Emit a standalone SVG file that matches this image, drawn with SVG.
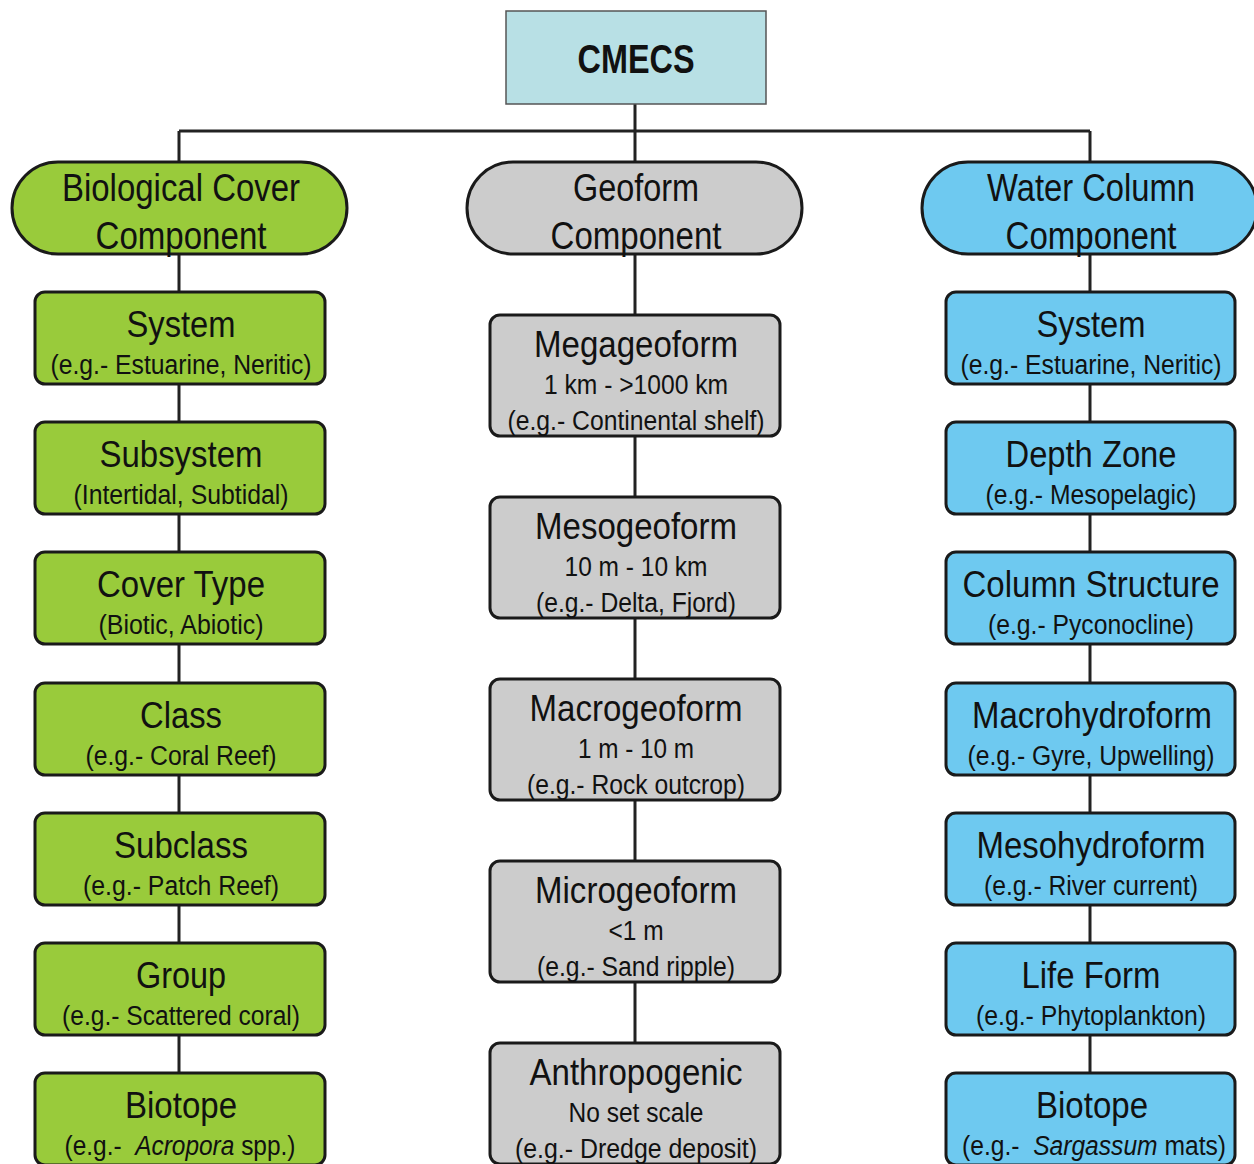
<svg xmlns="http://www.w3.org/2000/svg" width="1254" height="1164" viewBox="0 0 1254 1164">
<style>
text{font-family:"Liberation Sans",Arial,sans-serif;fill:#111;text-anchor:middle}
.t{font-size:37px}
.s{font-size:27px}
.h{font-size:38px}
.bx{stroke:#1a1a1a;stroke-width:3}
.g{fill:#99CB3B}
.b{fill:#6EC9F0}
.y{fill:#CCCCCC}
.ln{stroke:#222;stroke-width:3;fill:none}
</style>
<rect width="1254" height="1164" fill="#fff"/>
<g id="connectors">
<path class="ln" d="M179 131 H1090 M179 131 V1073 M635 104 V1043 M1090 131 V1073"/>
</g>
<g id="cmecs">
<rect x="506" y="11" width="260" height="93" fill="#B8E0E5" stroke="#555" stroke-width="1.5"/>
<text x="636" y="73" style="font-size:40px;font-weight:bold" textLength="117" lengthAdjust="spacingAndGlyphs">CMECS</text>
</g>
<g id="bio-component">
<rect class="bx g" x="12" y="162" width="335" height="92" rx="46"/>
<text class="h" x="181" y="201" textLength="238" lengthAdjust="spacingAndGlyphs">Biological Cover</text>
<text class="h" x="181" y="249" textLength="171" lengthAdjust="spacingAndGlyphs">Component</text>
</g>
<g id="geo-component">
<rect class="bx y" x="467" y="162" width="335" height="92" rx="46"/>
<text class="h" x="636" y="201" textLength="126" lengthAdjust="spacingAndGlyphs">Geoform</text>
<text class="h" x="636" y="249" textLength="171" lengthAdjust="spacingAndGlyphs">Component</text>
</g>
<g id="water-component">
<rect class="bx b" x="922" y="162" width="335" height="92" rx="46"/>
<text class="h" x="1091" y="201" textLength="208" lengthAdjust="spacingAndGlyphs">Water Column</text>
<text class="h" x="1091" y="249" textLength="171" lengthAdjust="spacingAndGlyphs">Component</text>
</g>
<g id="bio-system">
<rect class="bx g" x="35" y="292" width="290" height="92" rx="10"/>
<text class="t" x="181" y="337" textLength="109" lengthAdjust="spacingAndGlyphs">System</text>
<text class="s" x="181" y="374" textLength="261" lengthAdjust="spacingAndGlyphs">(e.g.- Estuarine, Neritic)</text>
</g>
<g id="bio-subsystem">
<rect class="bx g" x="35" y="422" width="290" height="92" rx="10"/>
<text class="t" x="181" y="467" textLength="163" lengthAdjust="spacingAndGlyphs">Subsystem</text>
<text class="s" x="181" y="504" textLength="215" lengthAdjust="spacingAndGlyphs">(Intertidal, Subtidal)</text>
</g>
<g id="bio-covertype">
<rect class="bx g" x="35" y="552" width="290" height="92" rx="10"/>
<text class="t" x="181" y="597" textLength="168" lengthAdjust="spacingAndGlyphs">Cover Type</text>
<text class="s" x="181" y="634" textLength="165" lengthAdjust="spacingAndGlyphs">(Biotic, Abiotic)</text>
</g>
<g id="bio-class">
<rect class="bx g" x="35" y="683" width="290" height="92" rx="10"/>
<text class="t" x="181" y="728" textLength="82" lengthAdjust="spacingAndGlyphs">Class</text>
<text class="s" x="181" y="765" textLength="191" lengthAdjust="spacingAndGlyphs">(e.g.- Coral Reef)</text>
</g>
<g id="bio-subclass">
<rect class="bx g" x="35" y="813" width="290" height="92" rx="10"/>
<text class="t" x="181" y="858" textLength="134" lengthAdjust="spacingAndGlyphs">Subclass</text>
<text class="s" x="181" y="895" textLength="196" lengthAdjust="spacingAndGlyphs">(e.g.- Patch Reef)</text>
</g>
<g id="bio-group">
<rect class="bx g" x="35" y="943" width="290" height="92" rx="10"/>
<text class="t" x="181" y="988" textLength="90" lengthAdjust="spacingAndGlyphs">Group</text>
<text class="s" x="181" y="1025" textLength="238" lengthAdjust="spacingAndGlyphs">(e.g.- Scattered coral)</text>
</g>
<g id="bio-biotope">
<rect class="bx g" x="35" y="1073" width="290" height="92" rx="10"/>
<text class="t" x="181" y="1118" textLength="112" lengthAdjust="spacingAndGlyphs">Biotope</text>
<text class="s" x="180" y="1155" textLength="231" lengthAdjust="spacingAndGlyphs" xml:space="preserve">(e.g.-  <tspan font-style="italic">Acropora</tspan> spp.)</text>
</g>
<g id="geo-mega">
<rect class="bx y" x="490" y="315" width="290" height="121" rx="10"/>
<text class="t" x="636" y="357" textLength="204" lengthAdjust="spacingAndGlyphs">Megageoform</text>
<text class="s" x="636" y="394" textLength="184" lengthAdjust="spacingAndGlyphs">1 km - &gt;1000 km</text>
<text class="s" x="636" y="430" textLength="257" lengthAdjust="spacingAndGlyphs">(e.g.- Continental shelf)</text>
</g>
<g id="geo-meso">
<rect class="bx y" x="490" y="497" width="290" height="121" rx="10"/>
<text class="t" x="636" y="539" textLength="202" lengthAdjust="spacingAndGlyphs">Mesogeoform</text>
<text class="s" x="636" y="576" textLength="143" lengthAdjust="spacingAndGlyphs">10 m - 10 km</text>
<text class="s" x="636" y="612" textLength="200" lengthAdjust="spacingAndGlyphs">(e.g.- Delta, Fjord)</text>
</g>
<g id="geo-macro">
<rect class="bx y" x="490" y="679" width="290" height="121" rx="10"/>
<text class="t" x="636" y="721" textLength="213" lengthAdjust="spacingAndGlyphs">Macrogeoform</text>
<text class="s" x="636" y="758" textLength="116" lengthAdjust="spacingAndGlyphs">1 m - 10 m</text>
<text class="s" x="636" y="794" textLength="218" lengthAdjust="spacingAndGlyphs">(e.g.- Rock outcrop)</text>
</g>
<g id="geo-micro">
<rect class="bx y" x="490" y="861" width="290" height="121" rx="10"/>
<text class="t" x="636" y="903" textLength="202" lengthAdjust="spacingAndGlyphs">Microgeoform</text>
<text class="s" x="636" y="940" textLength="55" lengthAdjust="spacingAndGlyphs">&lt;1 m</text>
<text class="s" x="636" y="976" textLength="198" lengthAdjust="spacingAndGlyphs">(e.g.- Sand ripple)</text>
</g>
<g id="geo-anthro">
<rect class="bx y" x="490" y="1043" width="290" height="121" rx="10"/>
<text class="t" x="636" y="1085" textLength="213" lengthAdjust="spacingAndGlyphs">Anthropogenic</text>
<text class="s" x="636" y="1122" textLength="135" lengthAdjust="spacingAndGlyphs">No set scale</text>
<text class="s" x="636" y="1158" textLength="242" lengthAdjust="spacingAndGlyphs">(e.g.- Dredge deposit)</text>
</g>
<g id="wc-system">
<rect class="bx b" x="946" y="292" width="289" height="92" rx="10"/>
<text class="t" x="1091" y="337" textLength="109" lengthAdjust="spacingAndGlyphs">System</text>
<text class="s" x="1091" y="374" textLength="261" lengthAdjust="spacingAndGlyphs">(e.g.- Estuarine, Neritic)</text>
</g>
<g id="wc-depthzone">
<rect class="bx b" x="946" y="422" width="289" height="92" rx="10"/>
<text class="t" x="1091" y="467" textLength="171" lengthAdjust="spacingAndGlyphs">Depth Zone</text>
<text class="s" x="1091" y="504" textLength="211" lengthAdjust="spacingAndGlyphs">(e.g.- Mesopelagic)</text>
</g>
<g id="wc-columnstructure">
<rect class="bx b" x="946" y="552" width="289" height="92" rx="10"/>
<text class="t" x="1091" y="597" textLength="257" lengthAdjust="spacingAndGlyphs">Column Structure</text>
<text class="s" x="1091" y="634" textLength="206" lengthAdjust="spacingAndGlyphs">(e.g.- Pyconocline)</text>
</g>
<g id="wc-macrohydroform">
<rect class="bx b" x="946" y="683" width="289" height="92" rx="10"/>
<text class="t" x="1092" y="728" textLength="240" lengthAdjust="spacingAndGlyphs">Macrohydroform</text>
<text class="s" x="1091" y="765" textLength="247" lengthAdjust="spacingAndGlyphs">(e.g.- Gyre, Upwelling)</text>
</g>
<g id="wc-mesohydroform">
<rect class="bx b" x="946" y="813" width="289" height="92" rx="10"/>
<text class="t" x="1091" y="858" textLength="229" lengthAdjust="spacingAndGlyphs">Mesohydroform</text>
<text class="s" x="1091" y="895" textLength="214" lengthAdjust="spacingAndGlyphs">(e.g.- River current)</text>
</g>
<g id="wc-lifeform">
<rect class="bx b" x="946" y="943" width="289" height="92" rx="10"/>
<text class="t" x="1091" y="988" textLength="139" lengthAdjust="spacingAndGlyphs">Life Form</text>
<text class="s" x="1091" y="1025" textLength="230" lengthAdjust="spacingAndGlyphs">(e.g.- Phytoplankton)</text>
</g>
<g id="wc-biotope">
<rect class="bx b" x="946" y="1073" width="289" height="92" rx="10"/>
<text class="t" x="1092" y="1118" textLength="112" lengthAdjust="spacingAndGlyphs">Biotope</text>
<text class="s" x="1094" y="1155" textLength="264" lengthAdjust="spacingAndGlyphs" xml:space="preserve">(e.g.-  <tspan font-style="italic">Sargassum</tspan> mats)</text>
</g>
</svg>
